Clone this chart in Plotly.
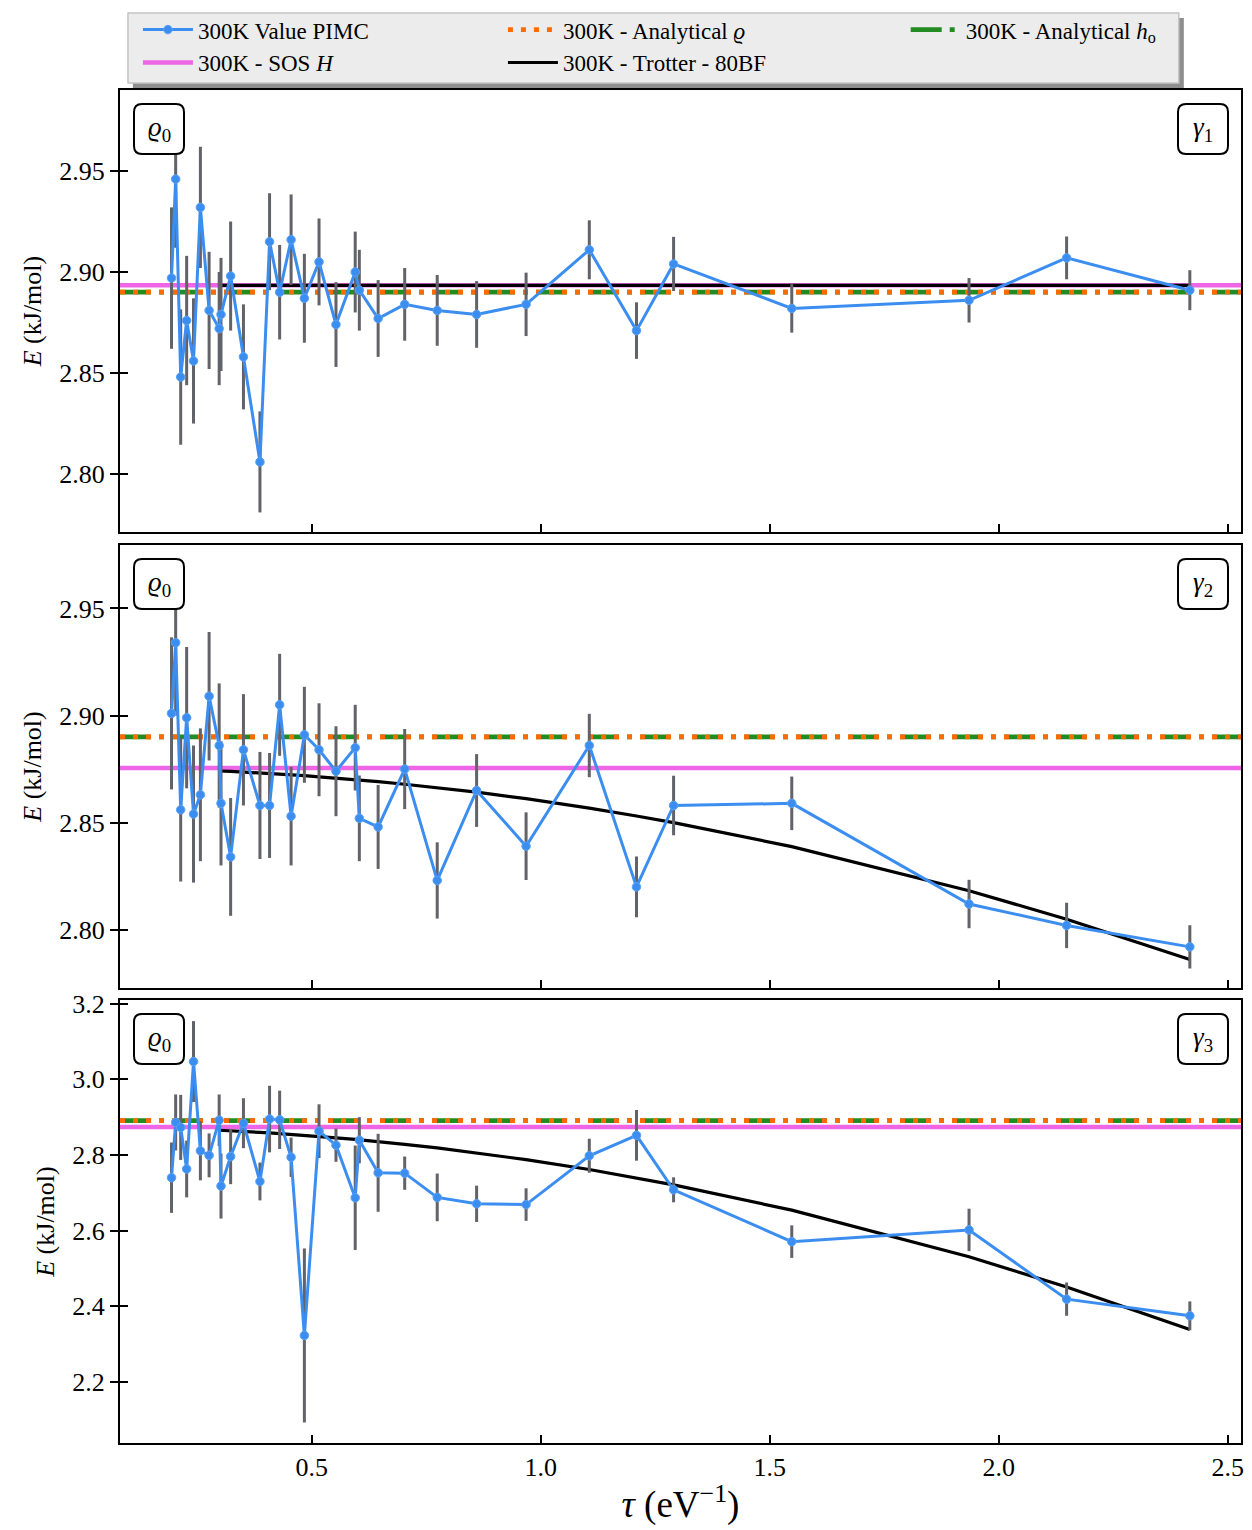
import plotly.graph_objects as go

# ---------------- data ----------------
tau = [0.194, 0.203, 0.214, 0.227, 0.242, 0.257, 0.276, 0.298, 0.302, 0.323,
       0.351, 0.387, 0.408, 0.430, 0.455, 0.484, 0.516, 0.553, 0.595, 0.604,
       0.645, 0.703, 0.774, 0.860, 0.968, 1.106, 1.209, 1.290, 1.548, 1.935,
       2.148, 2.417]

E_g1 = [2.897, 2.946, 2.848, 2.876, 2.856, 2.932, 2.881, 2.872, 2.879, 2.898,
        2.858, 2.806, 2.915, 2.890, 2.916, 2.887, 2.905, 2.874, 2.900, 2.891,
        2.877, 2.884, 2.881, 2.879, 2.884, 2.911, 2.871, 2.904, 2.882, 2.886,
        2.907, 2.891]
err_g1 = [0.035, 0.034, 0.0335, 0.032, 0.031, 0.030, 0.029, 0.028, 0.028, 0.027,
          0.026, 0.025, 0.024, 0.0234, 0.0224, 0.022, 0.0215, 0.021, 0.020, 0.020,
          0.019, 0.018, 0.0175, 0.0165, 0.0157, 0.0146, 0.014, 0.0134, 0.012, 0.011,
          0.0106, 0.0099]

E_g2 = [2.901, 2.934, 2.856, 2.899, 2.854, 2.863, 2.909, 2.886, 2.859, 2.834,
        2.884, 2.858, 2.858, 2.905, 2.853, 2.891, 2.884, 2.874, 2.885, 2.852,
        2.848, 2.875, 2.823, 2.865, 2.839, 2.886, 2.820, 2.858, 2.859, 2.812,
        2.802, 2.792]
err_g2 = [0.0355, 0.034, 0.0335, 0.033, 0.032, 0.031, 0.030, 0.029, 0.029, 0.0275,
          0.026, 0.025, 0.0245, 0.0238, 0.023, 0.0224, 0.0217, 0.021, 0.020, 0.020,
          0.0196, 0.0187, 0.0178, 0.017, 0.0158, 0.0148, 0.0142, 0.0139, 0.0125, 0.0113,
          0.0106, 0.0101]

E_g3 = [2.740, 2.886, 2.873, 2.763, 3.047, 2.811, 2.799, 2.892, 2.718, 2.796,
        2.884, 2.730, 2.895, 2.893, 2.794, 2.323, 2.863, 2.826, 2.687, 2.839,
        2.753, 2.752, 2.688, 2.671, 2.669, 2.798, 2.852, 2.708, 2.571, 2.602,
        2.419, 2.375]
err_g3 = [0.093, 0.074, 0.086, 0.075, 0.107, 0.078, 0.058, 0.068, 0.086, 0.073,
          0.066, 0.050, 0.088, 0.077, 0.052, 0.230, 0.071, 0.044, 0.138, 0.061,
          0.103, 0.044, 0.063, 0.048, 0.043, 0.045, 0.067, 0.033, 0.043, 0.056,
          0.044, 0.038]

tau_trotter = [0.298, 0.302, 0.323, 0.351, 0.387, 0.408, 0.430, 0.455, 0.484,
               0.516, 0.553, 0.595, 0.604, 0.645, 0.703, 0.774, 0.860, 0.968,
               1.106, 1.209, 1.290, 1.548, 1.935, 2.148, 2.417]
trotter_g1 = [2.8934, 2.8934, 2.8934, 2.8934, 2.8934, 2.8934, 2.8934, 2.8934, 2.8934,
              2.8934, 2.8934, 2.8934, 2.8934, 2.8934, 2.8934, 2.8934, 2.8934, 2.8934,
              2.8934, 2.8934, 2.8934, 2.8934, 2.8934, 2.8934, 2.8934]
trotter_g2 = [2.8741, 2.8741, 2.8739, 2.8736, 2.8732, 2.8730, 2.8727, 2.8723, 2.8719,
              2.8714, 2.8708, 2.8701, 2.8699, 2.8691, 2.8679, 2.8663, 2.8642, 2.8612,
              2.8568, 2.8531, 2.8500, 2.8388, 2.8182, 2.8049, 2.7861]
trotter_g3 = [2.8654, 2.8652, 2.8640, 2.8622, 2.8598, 2.8583, 2.8566, 2.8546, 2.8521,
              2.8491, 2.8455, 2.8411, 2.8401, 2.8354, 2.8283, 2.8187, 2.8058, 2.7878,
              2.7616, 2.7398, 2.7212, 2.6542, 2.5309, 2.4513, 2.3390]

sos_H = [2.8934, 2.8755, 2.8740]
analytical_rho = [2.890, 2.890, 2.891]
analytical_ho = [2.890, 2.890, 2.891]

panel_labels = ["<i>γ</i><sub>1</sub>", "<i>γ</i><sub>2</sub>", "<i>γ</i><sub>3</sub>"]
left_label = "<i>ϱ</i><sub>0</sub>"

x_ticks = [0.5, 1.0, 1.5, 2.0, 2.5]
y_ticks = [[2.80, 2.85, 2.90, 2.95], [2.80, 2.85, 2.90, 2.95],
           [2.2, 2.4, 2.6, 2.8, 3.0, 3.2]]
y_ranges = [[2.7713, 2.9901], [2.7728, 2.9796], [2.0388, 3.2096]]
x_range = [0.0815, 2.5287]

# ---------------- style ----------------
FONT = "Liberation Serif"
BLUE = "#3b8ef0"
GRAY = "#626269"
PINK = "#ee66e6"
ORANGE = "#ff6a00"
GREEN = "#228b22"

domains = [[0.6733, 1.0], [0.3363, 0.6637], [0.0, 0.3274]]

fig = go.Figure()

names = {
    "pimc": "300K Value PIMC",
    "sos": "300K - SOS <i>H</i>",
    "rho": "300K - Analytical <i>ϱ</i>",
    "trot": "300K - Trotter - 80BF",
    "ho": "300K - Analytical <i>h</i><sub>o</sub>",
}

Es = [E_g1, E_g2, E_g3]
errs = [err_g1, err_g2, err_g3]
trots = [trotter_g1, trotter_g2, trotter_g3]

for i in range(3):
    xa = "x" if i == 0 else f"x{i+1}"
    ya = "y" if i == 0 else f"y{i+1}"
    first = i == 0
    # Trotter curve
    fig.add_trace(go.Scatter(x=tau_trotter, y=trots[i], mode="lines",
                             line=dict(color="black", width=3.2),
                             name=names["trot"], legend="legend2",
                             showlegend=first, xaxis=xa, yaxis=ya,
                             hoverinfo="skip"))
    # error bars
    fig.add_trace(go.Scatter(x=tau, y=Es[i], mode="markers",
                             marker=dict(size=1, color="rgba(0,0,0,0)"),
                             error_y=dict(type="data", array=errs[i], color=GRAY,
                                          thickness=3, width=0),
                             showlegend=False, xaxis=xa, yaxis=ya,
                             hoverinfo="skip"))
    # PIMC values
    fig.add_trace(go.Scatter(x=tau, y=Es[i], mode="lines+markers",
                             line=dict(color=BLUE, width=3),
                             marker=dict(size=8.5, color=BLUE,
                                         line=dict(color="#5aa2f5", width=1)),
                             name=names["pimc"], legend="legend",
                             showlegend=first, xaxis=xa, yaxis=ya))
    # dummy trace on overlay axis (for inward y ticks)
    fig.add_trace(go.Scatter(x=[None], y=[None], xaxis=xa, yaxis=f"y{i+4}",
                             showlegend=False, hoverinfo="skip"))

    # horizontal reference lines
    fig.add_shape(type="line", xref=f"{xa} domain", yref=ya, x0=0, x1=1,
                  y0=sos_H[i], y1=sos_H[i], layer="below",
                  line=dict(color=PINK, width=4.5))
    fig.add_shape(type="line", xref=f"{xa} domain", yref=ya, x0=0, x1=1,
                  y0=analytical_ho[i], y1=analytical_ho[i], layer="below",
                  line=dict(color=GREEN, width=4.8, dash="31px,8px,5px,8px"))
    fig.add_shape(type="line", xref=f"{xa} domain", yref=ya, x0=0, x1=1,
                  y0=analytical_rho[i], y1=analytical_rho[i], layer="below",
                  line=dict(color=ORANGE, width=4.8, dash="5px,8px"))

    # rounded label boxes
    for side, anchor, x_l, x_r in [("L", 0, 14, 64), ("R", 1, -63, -13)]:
        r = 8
        path = (f"M {x_l+r},-14 L {x_r-r},-14 Q {x_r},-14 {x_r},{-14-r} "
                f"L {x_r},{-64+r} Q {x_r},-64 {x_r-r},-64 L {x_l+r},-64 "
                f"Q {x_l},-64 {x_l},{-64+r} L {x_l},{-14-r} Q {x_l},-14 {x_l+r},-14 Z")
        fig.add_shape(type="path", xref=f"{xa} domain", yref=f"{ya} domain",
                      xsizemode="pixel", ysizemode="pixel",
                      xanchor=anchor, yanchor=1, path=path,
                      line=dict(color="black", width=2), fillcolor="white",
                      layer="above")
        txt = left_label if side == "L" else panel_labels[i]
        fig.add_annotation(xref=f"{xa} domain", yref=f"{ya} domain",
                           x=anchor, y=1, xshift=(x_l + x_r) / 2, yshift=-39,
                           text=txt, showarrow=False, xanchor="center",
                           yanchor="middle",
                           font=dict(family=FONT, size=27, color="black"))

# legend-only entries for the horizontal lines
fig.add_trace(go.Scatter(x=[None], y=[None], mode="lines", name=names["sos"],
                         line=dict(color=PINK, width=4.5), legend="legend"))
fig.add_trace(go.Scatter(x=[None], y=[None], mode="lines", name=names["rho"],
                         line=dict(color=ORANGE, width=4.8, dash="5px,8px"),
                         legend="legend2", legendrank=1))
fig.add_trace(go.Scatter(x=[None], y=[None], mode="lines", name=names["ho"],
                         line=dict(color=GREEN, width=4.8, dash="31px,8px,5px,8px"),
                         legend="legend3"))

axis_common = dict(showline=True, linecolor="black", linewidth=2, mirror=True,
                   showgrid=False, zeroline=False, tickcolor="black",
                   tickwidth=1.5, ticklen=8,
                   tickfont=dict(family=FONT, size=26, color="black"))

layout = dict(width=1252, height=1530, paper_bgcolor="white",
              plot_bgcolor="white",
              margin=dict(l=120, r=8, t=90, b=87),
              font=dict(family=FONT, color="black"))

for i in range(3):
    xk = "xaxis" if i == 0 else f"xaxis{i+1}"
    yk = "yaxis" if i == 0 else f"yaxis{i+1}"
    ya = "y" if i == 0 else f"y{i+1}"
    xa = "x" if i == 0 else f"x{i+1}"
    layout[xk] = dict(axis_common, domain=[0, 1], anchor=ya, range=x_range,
                      tickvals=x_ticks, tickformat=".1f", ticks="inside",
                      showticklabels=(i == 2))
    yfmt = ".1f" if i == 2 else ".2f"
    layout[yk] = dict(axis_common, domain=domains[i], anchor=xa,
                      range=y_ranges[i], tickvals=y_ticks[i], tickformat=yfmt,
                      ticks="outside",
                      title=dict(text="<i>E</i> (kJ/mol)", standoff=10,
                                 font=dict(family=FONT, size=26)))
    layout[f"yaxis{i+4}"] = dict(overlaying=ya, matches=ya, anchor=xa,
                                 side="left", showline=False, showgrid=False,
                                 zeroline=False, ticks="inside", ticklen=8,
                                 tickwidth=1.5, tickcolor="black",
                                 tickvals=y_ticks[i], showticklabels=False)

layout["xaxis3"]["title"] = dict(text="<i>τ</i> (eV<sup>−1</sup>)", standoff=10,
                                 font=dict(family=FONT, size=37))

leg_common = dict(orientation="v", yanchor="top", xanchor="left",
                  bgcolor="rgba(0,0,0,0)", borderwidth=0, itemwidth=50,
                  tracegroupgap=0, y=1.0605,
                  font=dict(family=FONT, size=23, color="black"))
layout["legend"] = dict(leg_common, x=0.016)
layout["legend2"] = dict(leg_common, x=0.3416)
layout["legend3"] = dict(leg_common, x=0.7009)

fig.update_layout(**layout)

# legend frame and shadow
fig.add_shape(type="rect", xref="paper", yref="paper",
              x0=0.0115, x1=0.9490, y0=1.0015, y1=1.0532, layer="below",
              fillcolor="#8e8e8e", line=dict(width=0))
fig.add_shape(type="rect", xref="paper", yref="paper",
              x0=0.0071, x1=0.9445, y0=1.0052, y1=1.0569, layer="below",
              fillcolor="#ececec", line=dict(color="#c4c4c4", width=1.5))

fig.write_html("out.html")
